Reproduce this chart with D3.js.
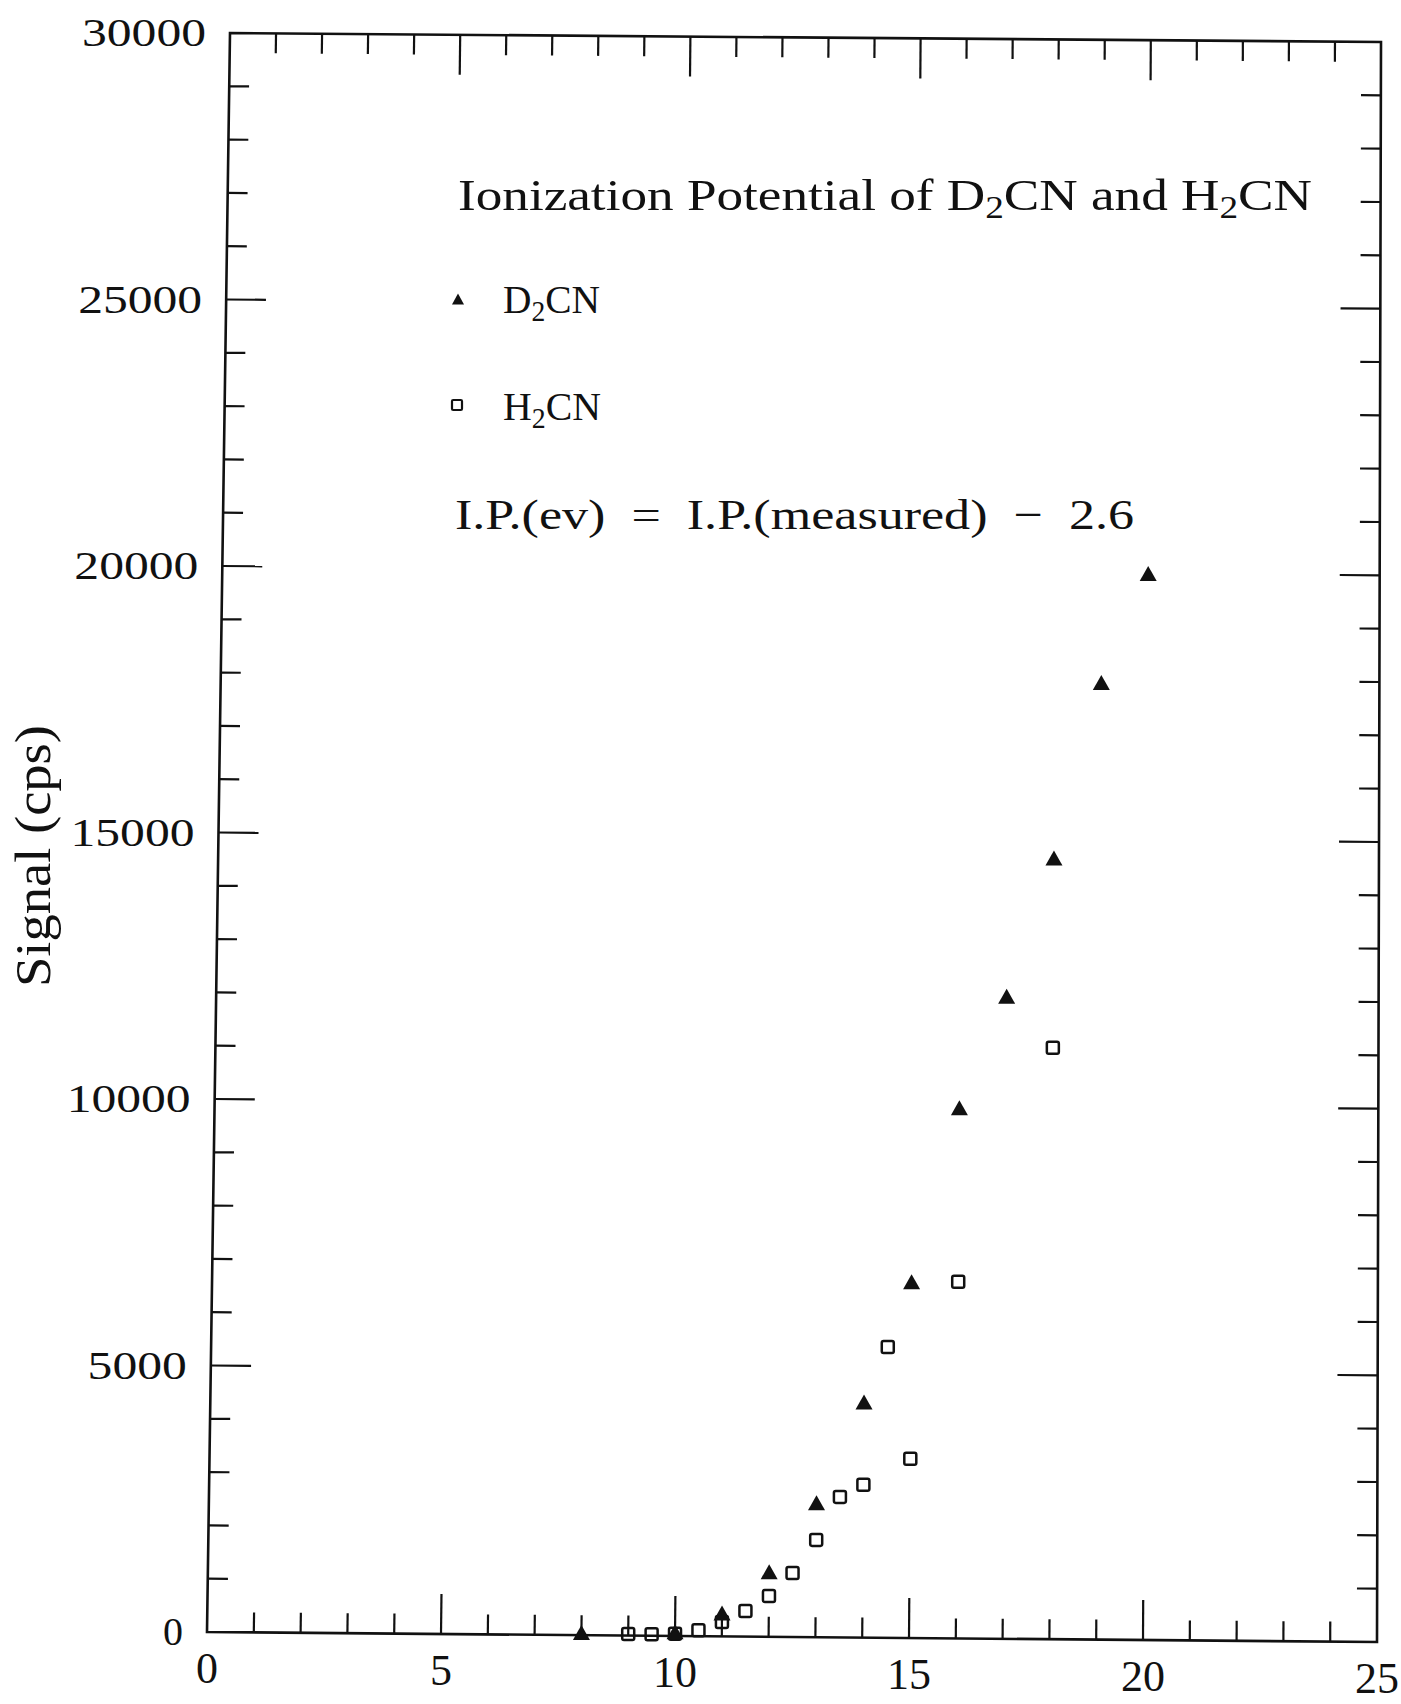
<!DOCTYPE html>
<html>
<head>
<meta charset="utf-8">
<script src="https://d3js.org/d3.v7.min.js"></script>
<style>
  body { margin: 0; background: #fff; }
  svg text { font-family: "Liberation Serif", "DejaVu Serif", serif; fill: #111; }
</style>
</head>
<body>
<svg id="chart" width="1401" height="1704"></svg>
<script>
// D2CN (filled triangles): measured energy vs signal (cps)
const d2cnX = [8, 10, 11, 12, 13, 14, 15, 16, 17, 18, 19, 20];
const d2cnY = [50, 80, 440, 1220, 2520, 4420, 6680, 9950, 12050, 14650, 17950, 20000];

// H2CN (open squares)
const h2cnX = [9, 9.5, 10, 10.5, 11, 11.5, 12, 12.5, 13, 13.5, 14, 14.5, 15, 16, 18];
const h2cnY = [30, 30, 40, 110, 270, 480, 765, 1200, 1825, 2635, 2865, 5455, 3360, 6690, 11090];

// tick labels
const xTickLabels = [0, 5, 10, 15, 20, 25];
const yTickLabels = [0, 5000, 10000, 15000, 20000, 25000, 30000];

const titleText = "Ionization Potential of D₂CN and H₂CN";
const noteText = "I.P.(ev)  =  I.P.(measured)  −  2.6";

// the scanned page is a little skewed: frame corners on the page
const tl = [230, 33], tr = [1381, 42], bl = [207, 1632], br = [1377, 1642];

// map unit square (u: left->right, v: top->bottom) onto the skewed frame
function warp(u, v) {
  const tx = tl[0] + (tr[0] - tl[0]) * u, ty = tl[1] + (tr[1] - tl[1]) * u;
  const bx = bl[0] + (br[0] - bl[0]) * u, by = bl[1] + (br[1] - bl[1]) * u;
  return [tx + (bx - tx) * v, ty + (by - ty) * v];
}

const x = d3.scaleLinear().domain([0, 25]).range([0, 1]);
const y = d3.scaleLinear().domain([0, 30000]).range([1, 0]);

const svg = d3.select("#chart");
const line = d3.line();

// frame
svg.append("path")
  .attr("d", line([warp(0, 0), warp(1, 0), warp(1, 1), warp(0, 1)]) + "Z")
  .attr("fill", "none")
  .attr("stroke", "#111")
  .attr("stroke-width", 2.6);

// ticks on all four sides (inward)
const ticks = [];
x.ticks(25).filter(t => t > 0 && t < 25).forEach(t => {
  const u = x(t), len = (t % 5 === 0 ? 40 : 20) / 1600;
  ticks.push([warp(u, 1), warp(u, 1 - len)]);
  ticks.push([warp(u, 0), warp(u, len)]);
});
d3.range(1000, 30000, 1000).forEach(t => {
  const v = y(t), len = (t % 5000 === 0 ? 40 : 20) / 1160;
  ticks.push([warp(0, v), warp(len, v)]);
  ticks.push([warp(1, v), warp(1 - len, v)]);
});
svg.append("g")
  .selectAll("path")
  .data(ticks)
  .join("path")
  .attr("d", d => line(d))
  .attr("stroke", "#111")
  .attr("stroke-width", 2.2);

// x tick labels
svg.append("g")
  .selectAll("text")
  .data(xTickLabels)
  .join("text")
  .attr("x", d => warp(x(d), 1)[0])
  .attr("y", d => warp(x(d), 1)[1] + 51)
  .attr("text-anchor", "middle")
  .style("font-size", "44px")
  .text(d => String(d));

// y tick labels
svg.append("g")
  .selectAll("text")
  .data(yTickLabels)
  .join("text")
  .attr("x", d => warp(0, y(d))[0] - 24)
  .attr("y", d => warp(0, y(d))[1] + 13)
  .attr("text-anchor", "end")
  .style("font-size", "40px")
  .each(function(d) {
    const s = String(d);
    if (s.length > 1) d3.select(this).attr("textLength", s.length * 24.8).attr("lengthAdjust", "spacingAndGlyphs");
  })
  .text(d => String(d));

// y axis title
svg.append("text")
  .attr("transform", "translate(50,856) rotate(-90)")
  .attr("text-anchor", "middle")
  .attr("textLength", 262)
  .attr("lengthAdjust", "spacingAndGlyphs")
  .style("font-size", "50px")
  .text("Signal (cps)");

// helper for text with subscript 2
function subText(g, str, px, py, size, len) {
  const t = g.append("text")
    .attr("x", px).attr("y", py).style("font-size", size + "px");
  if (len) t.attr("textLength", len).attr("lengthAdjust", "spacingAndGlyphs");
  const parts = str.split("₂");
  parts.forEach((p, i) => {
    t.append("tspan").text(p).attr("dy", i > 0 ? -8 : null);
    if (i < parts.length - 1) {
      t.append("tspan").text("2").attr("dy", 8).style("font-size", (size * 0.7) + "px");
    }
  });
  return t;
}

const notes = svg.append("g");
subText(notes, titleText, 458, 210, 44, 854);
subText(notes, "D₂CN", 503, 313, 41, 97);
subText(notes, "H₂CN", 503, 420, 41, 98);
notes.append("text")
  .attr("x", 455).attr("y", 529)
  .attr("textLength", 679)
  .attr("lengthAdjust", "spacingAndGlyphs")
  .style("font-size", "43px")
  .style("white-space", "pre")
  .text(noteText);

// marker shapes
const triPath = (w, h) => `M0,${-h / 2}L${w / 2},${h / 2}L${-w / 2},${h / 2}Z`;

// legend markers
notes.append("path")
  .attr("transform", "translate(458,299)")
  .attr("d", triPath(12, 11))
  .attr("fill", "#111");
notes.append("rect")
  .attr("x", 457 - 5).attr("y", 405 - 5)
  .attr("width", 10).attr("height", 10).attr("rx", 1.2)
  .attr("fill", "none").attr("stroke", "#111").attr("stroke-width", 2.2);

// data
const d2cn = d2cnX.map((v, i) => ({ x: v, y: d2cnY[i] }));
const h2cn = h2cnX.map((v, i) => ({ x: v, y: h2cnY[i] }));

// H2CN open squares
svg.append("g")
  .selectAll("rect")
  .data(h2cn)
  .join("rect")
  .attr("x", d => warp(x(d.x), y(d.y))[0] - 6)
  .attr("y", d => warp(x(d.x), y(d.y))[1] - 6)
  .attr("width", 12).attr("height", 12).attr("rx", 1.8)
  .attr("fill", "none")
  .attr("stroke", "#111")
  .attr("stroke-width", 2.5);

// D2CN filled triangles
svg.append("g")
  .selectAll("path")
  .data(d2cn)
  .join("path")
  .attr("transform", d => `translate(${warp(x(d.x), y(d.y))})`)
  .attr("d", triPath(17, 15))
  .attr("fill", "#111");
</script>
</body>
</html>
